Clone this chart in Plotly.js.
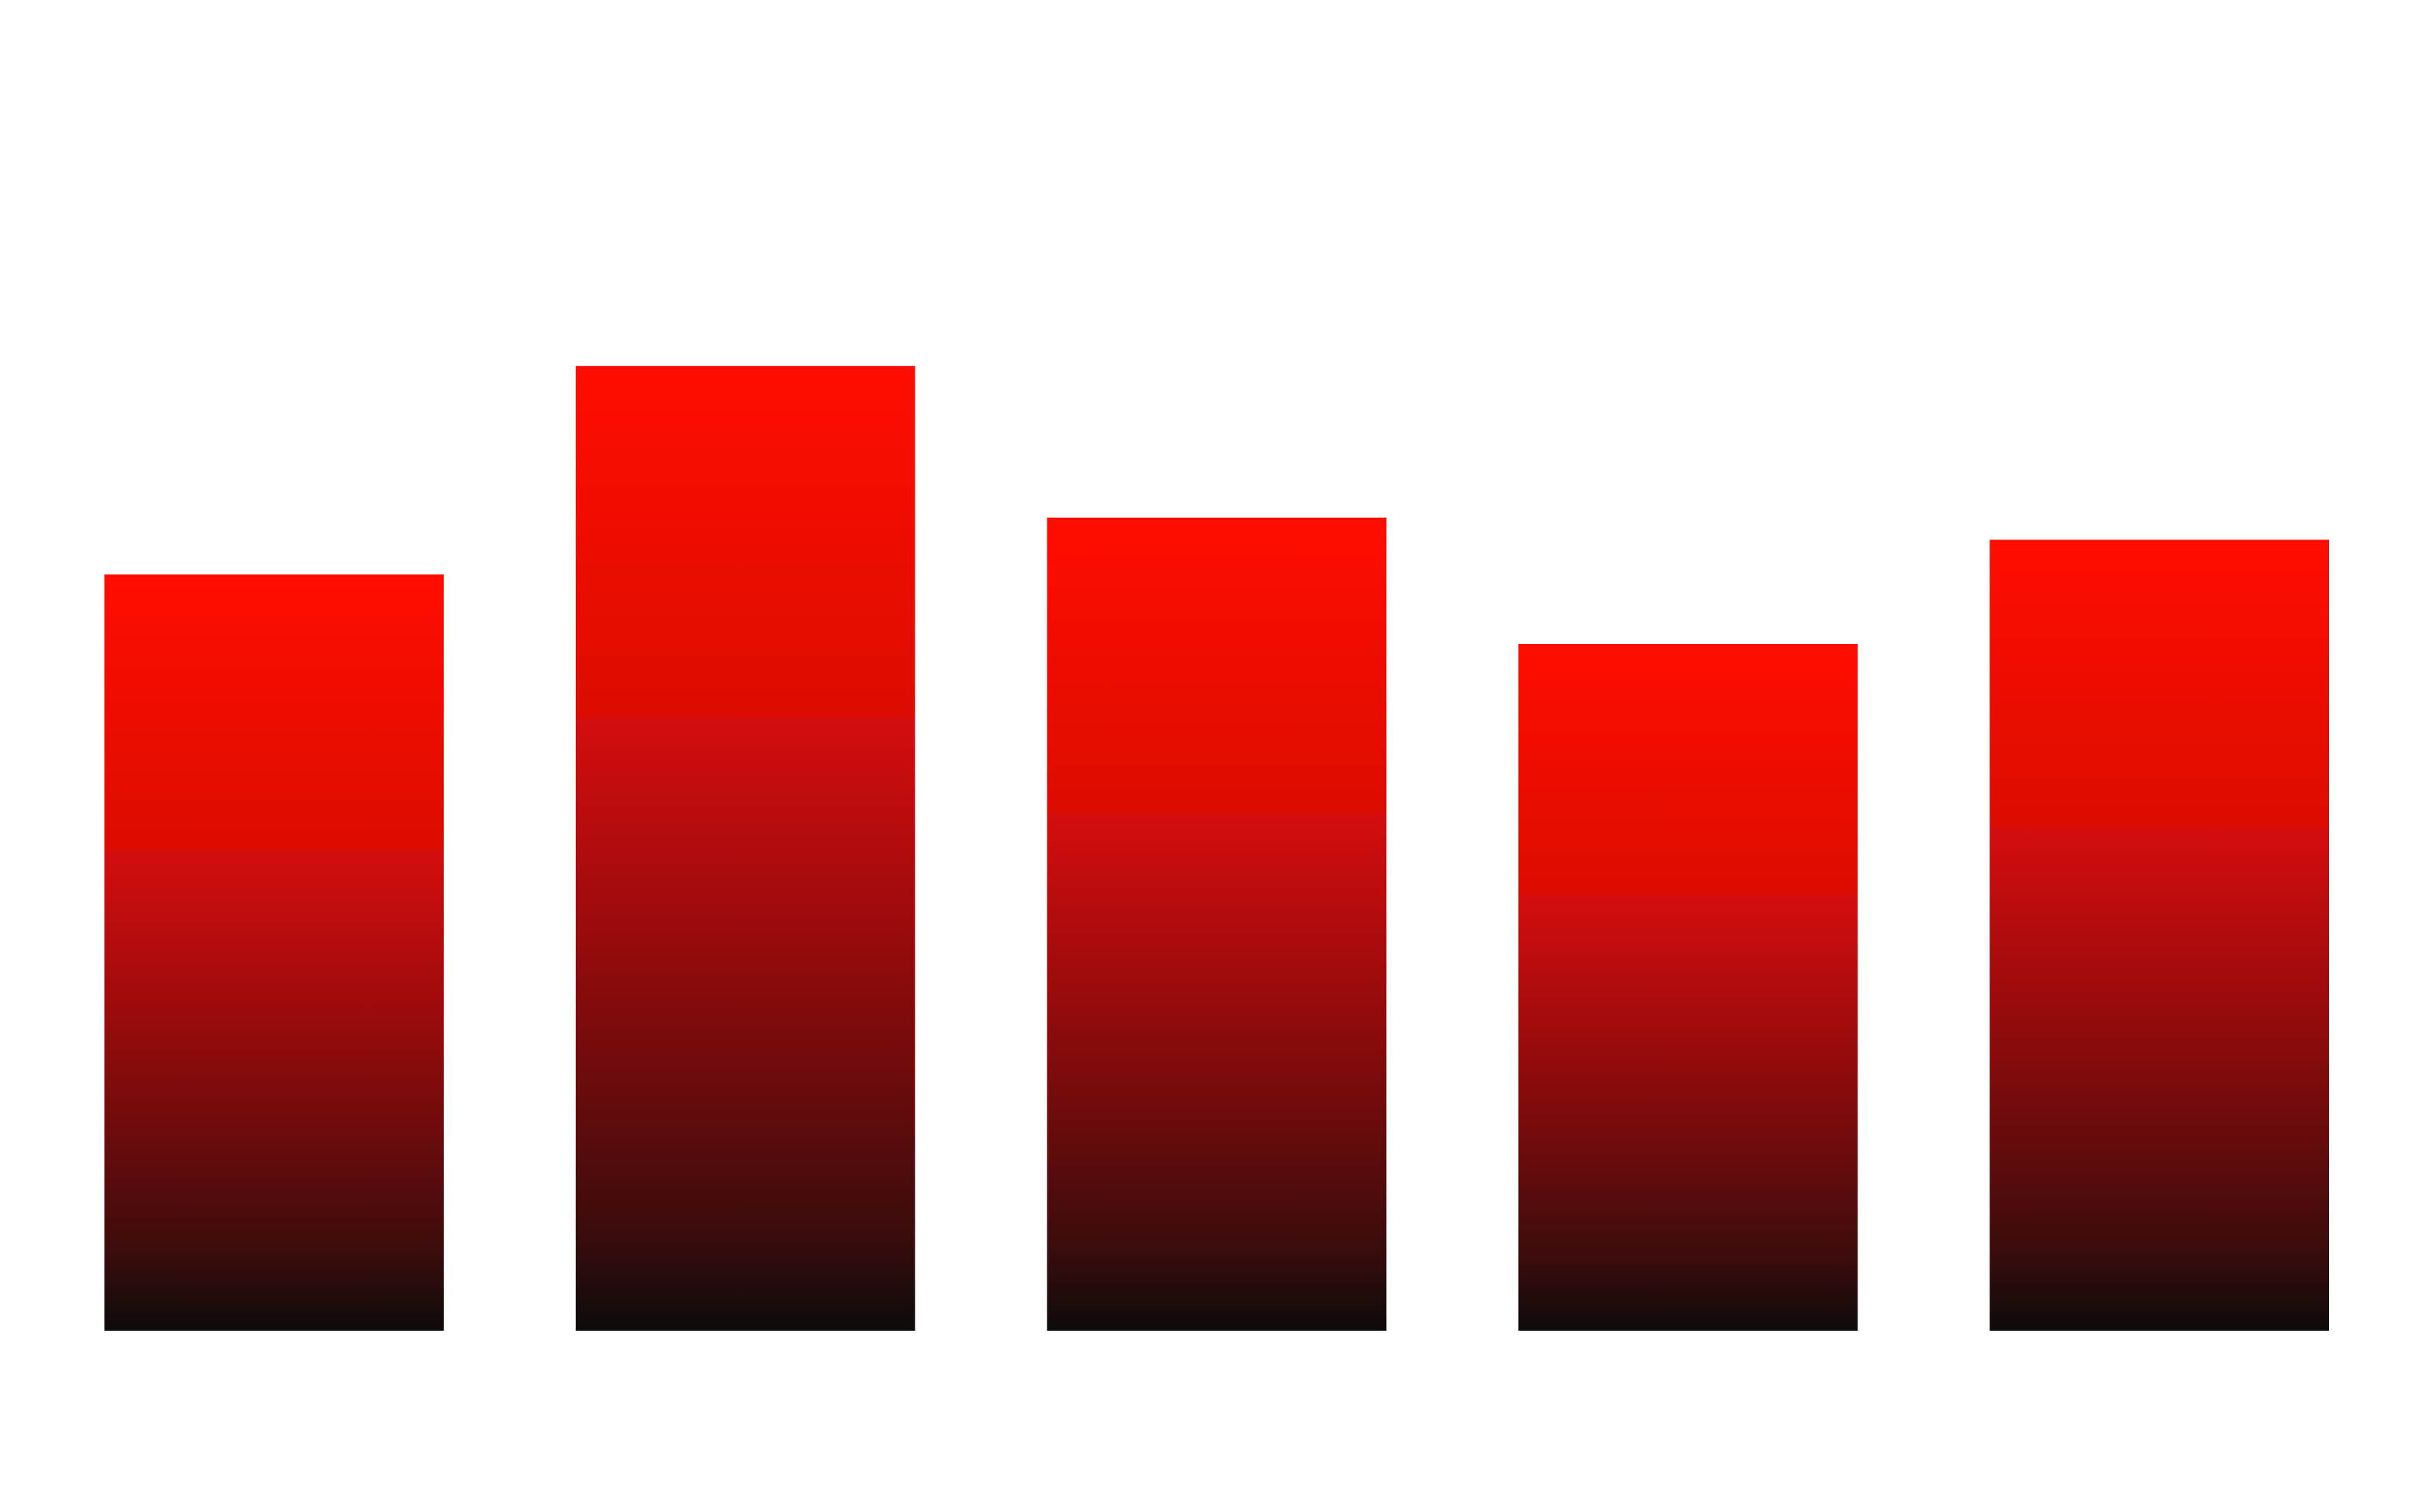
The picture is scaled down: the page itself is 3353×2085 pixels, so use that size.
<!DOCTYPE html>
<html>
<head>
<meta charset="utf-8">
<script src="https://cdn.plot.ly/plotly-3.0.1.min.js"></script>
<style>
  html, body { margin: 0; padding: 0; background: #ffffff; }
  #main { width: 3353px; height: 2085px; }
</style>
</head>
<body>
<!-- vertical gradient used for every bar (per-bar bounding box) -->
<svg width="0" height="0" style="position:absolute">
  <defs>
    <linearGradient id="barGrad" x1="0" y1="0" x2="0" y2="1">
      <stop offset="0" stop-color="#ff0d00"/>
      <stop offset="0.364" stop-color="#dc0c00"/>
      <stop offset="0.364" stop-color="#d50d0f"/>
      <stop offset="0.57" stop-color="#9e0b0c"/>
      <stop offset="0.72" stop-color="#720b0c"/>
      <stop offset="0.9" stop-color="#3a0c0c"/>
      <stop offset="1" stop-color="#0d0b0b"/>
    </linearGradient>
  </defs>
</svg>
<div id="main"></div>
<script>
const categories = ['A', 'B', 'C', 'D', 'E']
const values = [78.4, 100, 84.3, 71.2, 82.0]

const data = [{
  x: categories,
  y: values,
  type: 'bar',
  marker: { color: '#c00a0a', line: { width: 0 } },
  hoverinfo: 'none',
}]

const layout = {
  width: 3353,
  height: 2085,
  margin: { l: 53, r: 51, t: 300, b: 250 },
  paper_bgcolor: '#ffffff',
  plot_bgcolor: '#ffffff',
  bargap: 0.28,
  showlegend: false,
  xaxis: { visible: false, showgrid: false, zeroline: false },
  yaxis: { visible: false, showgrid: false, zeroline: false, range: [0, 115.4] },
}

const applyGradient = () => {
  document.querySelectorAll('#main .bars .point path').forEach(p => {
    p.style.setProperty('fill', 'url(#barGrad)')
    p.style.setProperty('fill-opacity', '1')
  })
}

Plotly.newPlot('main', data, layout, { staticPlot: true, displayModeBar: false })
  .then(applyGradient)
</script>
</body>
</html>
